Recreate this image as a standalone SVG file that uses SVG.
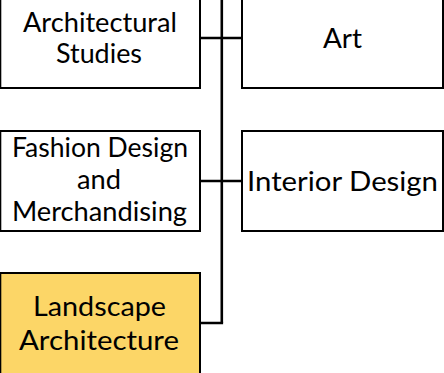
<svg xmlns="http://www.w3.org/2000/svg" width="444" height="373" viewBox="0 0 444 373">
<style>
.box{fill:#ffffff;stroke:#000000;stroke-width:2}
.hl{fill:#fcd667}
.t{font-family:Lato,"Noto Sans","Liberation Sans",sans-serif;font-size:27px;fill:#000000;text-anchor:middle}
.c{fill:none;stroke:#000000;stroke-width:2.6}
</style>
<rect width="444" height="373" fill="#ffffff"/>
<g id="connectors">
<line class="c" x1="221.8" y1="-5" x2="221.8" y2="323"/>
<line class="c" x1="200" y1="38" x2="242" y2="38"/>
<line class="c" x1="200" y1="181" x2="242" y2="181"/>
<polyline class="c" points="221.8,321.7 221.8,323 200,323"/>
</g>
<g id="node-architectural-studies">
<rect class="box" x="0.3" y="-12" width="199.7" height="100"/>
<text class="t" x="100" y="32" textLength="154" lengthAdjust="spacingAndGlyphs">Architectural</text>
<text class="t" x="99" y="63" textLength="86" lengthAdjust="spacingAndGlyphs">Studies</text>
</g>
<g id="node-art">
<rect class="box" x="242" y="-12" width="201" height="100"/>
<text class="t" x="342.5" y="48" textLength="39" lengthAdjust="spacingAndGlyphs">Art</text>
</g>
<g id="node-fashion">
<rect class="box" x="0.3" y="131" width="199.7" height="100"/>
<text class="t" x="100" y="157" textLength="176" lengthAdjust="spacingAndGlyphs">Fashion Design</text>
<text class="t" x="99" y="189" textLength="44" lengthAdjust="spacingAndGlyphs">and</text>
<text class="t" x="99.5" y="221" textLength="175" lengthAdjust="spacingAndGlyphs">Merchandising</text>
</g>
<g id="node-interior">
<rect class="box" x="242" y="131" width="201" height="100"/>
<text class="t" x="342.5" y="190.5" textLength="191" lengthAdjust="spacingAndGlyphs">Interior Design</text>
</g>
<g id="node-landscape">
<rect class="box hl" x="0.3" y="273" width="199.7" height="102"/>
<text class="t" x="99.5" y="316" textLength="133" lengthAdjust="spacingAndGlyphs">Landscape</text>
<text class="t" x="99" y="350" textLength="160" lengthAdjust="spacingAndGlyphs">Architecture</text>
</g>
</svg>
